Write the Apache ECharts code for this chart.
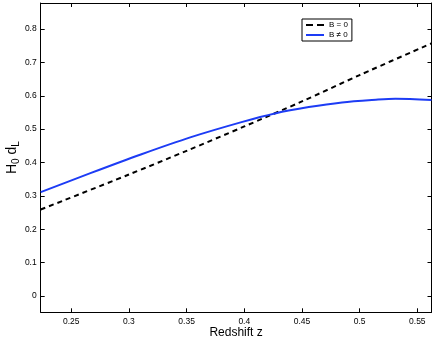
<!DOCTYPE html>
<html>
<head>
<meta charset="utf-8">
<script src="https://cdn.jsdelivr.net/npm/echarts@6/dist/echarts.min.js"></script>
<style>
  html, body { margin: 0; padding: 0; background: #fff; }
  #chart { width: 436px; height: 341px; }
</style>
</head>
<body>
<div id="chart"></div>
<script>
// redshift samples and H0*dL values
const zFlat = [0.2235, 0.3, 0.35, 0.4, 0.45, 0.5, 0.5623]
const dlFlat = [0.259, 0.364, 0.435, 0.508, 0.583, 0.662, 0.757]

const zMag = [0.2235, 0.2666, 0.3103, 0.3538, 0.3976, 0.4266, 0.4559, 0.4847, 0.5141, 0.531, 0.5623]
const dlMag = [0.311, 0.368, 0.424, 0.476, 0.521, 0.547, 0.566, 0.580, 0.588, 0.591, 0.587]

const xTicks = [0.25, 0.3, 0.35, 0.4, 0.45, 0.5, 0.55]
const yTicks = [0, 0.1, 0.2, 0.3, 0.4, 0.5, 0.6, 0.7, 0.8]

const xMin = 0.2235, xMax = 0.5623
const yMin = -0.049, yMax = 0.878

const font = 'Liberation Sans, Arial, sans-serif'

function pairs(xs, ys) {
  return xs.map((x, i) => [x, ys[i]])
}

const line = { onZero: false, lineStyle: { color: '#000', width: 1 } }
const tickIn = { show: true, inside: true, length: 4, lineStyle: { color: '#000', width: 1 } }

const chart = echarts.init(document.getElementById('chart'), null, { renderer: 'canvas' })
chart.setOption({
  animation: false,
  grid: { left: 40.7, right: 4.5, top: 3, bottom: 28.7, outerBoundsMode: 'none', containLabel: false },
  legend: {
    orient: 'vertical',
    left: 302, top: 19,
    padding: [2, 4, 2, 4],
    itemGap: 2,
    itemWidth: 18, itemHeight: 8,
    borderColor: '#000', borderWidth: 1,
    backgroundColor: '#fff',
    textStyle: { fontFamily: font, fontSize: 8, color: '#000' },
    data: [
      { name: 'B = 0', icon: 'path://M0,0 L7,0 L7,2 L0,2 Z M11,0 L18,0 L18,2 L11,2 Z' },
      { name: 'B ≠ 0', icon: 'path://M0,0 L18,0 L18,2 L0,2 Z' }
    ]
  },
  xAxis: [{
    type: 'value', min: xMin, max: xMax,
    name: 'Redshift z', nameLocation: 'middle', nameGap: 14, nameMoveOverlap: false,
    nameTextStyle: { fontFamily: font, fontSize: 12, color: '#000' },
    axisLine: line,
    axisTick: Object.assign({ customValues: xTicks }, tickIn),
    axisLabel: { customValues: xTicks, fontFamily: font, fontSize: 8.5, color: '#000', margin: 5 },
    splitLine: { show: false }
  }, {
    type: 'value', position: 'top', min: xMin, max: xMax,
    axisLine: line,
    axisTick: Object.assign({ customValues: xTicks }, tickIn),
    axisLabel: { show: false },
    splitLine: { show: false }
  }],
  yAxis: [{
    type: 'value', min: yMin, max: yMax,
    name: '{m|H}{s|0}{m| d}{s|L}', nameLocation: 'middle', nameGap: 19, nameMoveOverlap: false,
    nameTextStyle: {
      rich: {
        m: { fontFamily: font, fontSize: 14, color: '#000' },
        s: { fontFamily: font, fontSize: 10, color: '#000', verticalAlign: 'bottom', padding: [9, 0, 0, 0] }
      }
    },
    axisLine: line,
    axisTick: Object.assign({ customValues: yTicks }, tickIn),
    axisLabel: { customValues: yTicks, fontFamily: font, fontSize: 8.5, color: '#000', margin: 4 },
    splitLine: { show: false }
  }, {
    type: 'value', position: 'right', min: yMin, max: yMax,
    axisLine: line,
    axisTick: Object.assign({ customValues: yTicks }, tickIn),
    axisLabel: { show: false },
    splitLine: { show: false }
  }],
  series: [{
    name: 'B = 0', type: 'line', smooth: 0.3, showSymbol: false,
    itemStyle: { color: '#000' },
    lineStyle: { color: '#000', width: 2, type: [5, 4] },
    data: pairs(zFlat, dlFlat)
  }, {
    name: 'B ≠ 0', type: 'line', smooth: 0.3, showSymbol: false,
    itemStyle: { color: '#1d3cf5' },
    lineStyle: { color: '#1d3cf5', width: 2 },
    data: pairs(zMag, dlMag)
  }]
})
</script>
</body>
</html>
